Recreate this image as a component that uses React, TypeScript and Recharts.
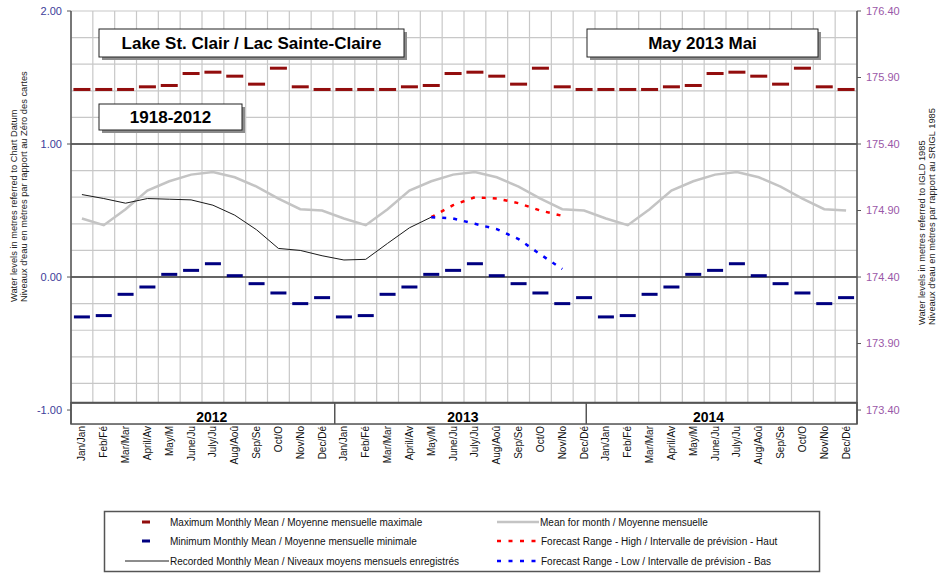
import React from "react";
import {
  ComposedChart,
  Line,
  XAxis,
  YAxis,
  CartesianGrid,
  ReferenceLine,
  ReferenceArea,
  ReferenceDot,
} from "recharts";

const FONT = "Arial, 'Liberation Sans', sans-serif";

// month labels as they appear (clipped) under the axis
const MONTH_LABELS = [
  "Jan/Jan",
  "Feb/Fé",
  "Mar/Mar",
  "April/Av",
  "May/M",
  "June/Ju",
  "July/Ju",
  "Aug/Aoû",
  "Sep/Se",
  "Oct/O",
  "Nov/No",
  "Dec/Dé",
];
const YEARS = ["2012", "2013", "2014"];

// 1918-2012 statistics, metres above chart datum
const MAX_MONTHLY = [1.41, 1.41, 1.41, 1.43, 1.44, 1.53, 1.54, 1.51, 1.45, 1.57, 1.43, 1.41];
const MIN_MONTHLY = [-0.3, -0.29, -0.13, -0.075, 0.02, 0.05, 0.1, 0.01, -0.05, -0.12, -0.2, -0.155];
const MEAN_MONTHLY = [0.44, 0.39, 0.51, 0.65, 0.72, 0.77, 0.79, 0.75, 0.68, 0.59, 0.51, 0.5];

// Jan 2012 .. May 2013
const RECORDED = [
  0.62, 0.59, 0.555, 0.59, 0.585, 0.58, 0.54, 0.465, 0.355, 0.215, 0.2, 0.16,
  0.128, 0.133, 0.253, 0.37, 0.45,
];

// May 2013 .. Nov 2013
const FORECAST_START = 16;
const FORECAST_HIGH = [0.45, 0.54, 0.6, 0.59, 0.555, 0.5, 0.46];
const FORECAST_LOW = [0.45, 0.44, 0.4, 0.36, 0.285, 0.17, 0.06];

const LEFT_TICKS = [-1, 0, 1, 2];
const RIGHT_TICKS = [173.4, 173.9, 174.4, 174.9, 175.4, 175.9, 176.4];
const YEAR_LABEL_POS = [6.45, 17.95, 29.2];
const YEAR_BREAKS = [12.08, 23.6];

const rows = Array.from({ length: 36 }, (_, i) => {
  const f = i - FORECAST_START;
  return {
    x: i + 0.5,
    max: MAX_MONTHLY[i % 12],
    min: MIN_MONTHLY[i % 12],
    mean: MEAN_MONTHLY[i % 12],
    recorded: i < RECORDED.length ? RECORDED[i] : null,
    high: f >= 0 && f < FORECAST_HIGH.length ? FORECAST_HIGH[f] : null,
    low: f >= 0 && f < FORECAST_LOW.length ? FORECAST_LOW[f] : null,
  };
});

const monthTicks = rows.map((r) => r.x);
const gridX = Array.from({ length: 37 }, (_, i) => i);
const gridY = Array.from({ length: 31 }, (_, i) => Math.round((-1 + i * 0.1) * 10) / 10);

const Y_MIN = -1.105;
const BAND_TOP = -0.945;

function MonthTick(props: any) {
  const { x, y, payload } = props;
  const label = MONTH_LABELS[Math.floor(payload.value) % 12];
  return (
    <g transform={`translate(${x}, ${y})`}>
      <text
        transform="rotate(-90)"
        textAnchor="end"
        dy="0.35em"
        fontSize={10}
        fontFamily={FONT}
        fill="#111"
      >
        {label}
      </text>
    </g>
  );
}

const dash = (color: string, w: number) => (p: any) => {
  if (p.cy == null || p.value == null) return <g key={p.index} />;
  return (
    <rect key={p.index} x={p.cx - w / 2} y={p.cy - 1.5} width={w} height={3} fill={color} />
  );
};

function TitleBox({ x, y, w, h, text }: { x: number; y: number; w: number; h: number; text: string }) {
  return (
    <g>
      <rect x={x + 3} y={y + 3} width={w} height={h} fill="#8c8c8c" />
      <rect x={x} y={y} width={w} height={h} fill="#fff" stroke="#222" strokeWidth={1} />
      <text
        x={x + w / 2}
        y={y + h / 2 + 6}
        textAnchor="middle"
        fontSize={17}
        fontWeight="bold"
        fontFamily={FONT}
        fill="#000"
      >
        {text}
      </text>
    </g>
  );
}

const legendText = {
  fontSize: 10,
  fontFamily: FONT,
  fill: "#111",
};

export default function App() {
  return (
    <div
      style={{
        position: "absolute",
        left: 0,
        top: 0,
        width: 938,
        height: 573,
        background: "#fff",
      }}
    >
      <ComposedChart
        width={938}
        height={573}
        data={rows}
        margin={{ top: 11, right: 0, bottom: 89, left: 0 }}
      >
        <XAxis
          xAxisId="m"
          type="number"
          dataKey="x"
          domain={[0, 36]}
          ticks={monthTicks}
          interval={0}
          allowDataOverflow
          height={60}
          axisLine={false}
          tickLine={false}
          tickSize={0}
          tickMargin={2}
          tick={<MonthTick />}
        />
        <XAxis
          xAxisId="g"
          type="number"
          dataKey="x"
          domain={[0, 36]}
          ticks={gridX}
          allowDataOverflow
          height={0}
          hide
        />
        <YAxis
          yAxisId="left"
          type="number"
          domain={[Y_MIN, 2]}
          ticks={LEFT_TICKS}
          allowDataOverflow
          width={71}
          tickFormatter={(v: number) => v.toFixed(2)}
          tick={{ fill: "#40409a", fontSize: 11, fontFamily: FONT }}
          tickSize={4}
          tickMargin={5}
          axisLine={{ stroke: "#555", strokeWidth: 1.5 }}
          tickLine={{ stroke: "#555" }}
        />
        <YAxis
          yAxisId="grid"
          type="number"
          domain={[Y_MIN, 2]}
          ticks={gridY}
          allowDataOverflow
          width={0}
          hide
        />
        <YAxis
          yAxisId="right"
          orientation="right"
          type="number"
          domain={[173.295, 176.4]}
          ticks={RIGHT_TICKS}
          allowDataOverflow
          width={81}
          tickFormatter={(v: number) => v.toFixed(2)}
          tick={{ fill: "#9a58a8", fontSize: 11, fontFamily: FONT }}
          tickSize={4}
          tickMargin={5}
          axisLine={{ stroke: "#555", strokeWidth: 1.5 }}
          tickLine={{ stroke: "#555" }}
        />
        <CartesianGrid xAxisId="g" yAxisId="grid" stroke="#c8c8c8" strokeWidth={1.2} />
        <ReferenceLine xAxisId="g" yAxisId="left" y={1} stroke="#3a3a3a" strokeWidth={1.5} />
        <ReferenceLine xAxisId="g" yAxisId="left" y={0} stroke="#3a3a3a" strokeWidth={1.5} />

        {/* year band */}
        <ReferenceArea
          xAxisId="g"
          yAxisId="left"
          x1={0}
          x2={36}
          y1={Y_MIN}
          y2={BAND_TOP}
          fill="#fff"
          fillOpacity={1}
          stroke="#555"
          strokeWidth={1.5}
          ifOverflow="visible"
        />
        <ReferenceLine xAxisId="g" yAxisId="left" y={BAND_TOP} stroke="#555" strokeWidth={2} />
        {YEAR_BREAKS.map((b) => (
          <ReferenceLine
            key={b}
            xAxisId="g"
            yAxisId="left"
            segment={[
              { x: b, y: BAND_TOP },
              { x: b, y: Y_MIN },
            ]}
            stroke="#555"
            strokeWidth={1.5}
            ifOverflow="visible"
          />
        ))}
        {YEARS.map((yr, i) => (
          <ReferenceDot
            key={yr}
            xAxisId="g"
            yAxisId="left"
            x={YEAR_LABEL_POS[i]}
            y={-1.05}
            r={1}
            fill="none"
            stroke="none"
            ifOverflow="visible"
            label={{
              value: yr,
              position: "center",
              fill: "#000",
              fontSize: 14,
              fontWeight: "bold",
              fontFamily: FONT,
            }}
          />
        ))}

        <Line
          xAxisId="m"
          yAxisId="left"
          dataKey="mean"
          stroke="#c4c4c4"
          strokeWidth={2.5}
          dot={false}
          activeDot={false}
          isAnimationActive={false}
        />
        <Line
          xAxisId="m"
          yAxisId="left"
          dataKey="recorded"
          stroke="#1a1a1a"
          strokeWidth={1}
          dot={false}
          activeDot={false}
          isAnimationActive={false}
        />
        <Line
          xAxisId="m"
          yAxisId="left"
          dataKey="high"
          stroke="#ff0000"
          strokeWidth={2.5}
          strokeDasharray="4 7"
          dot={false}
          activeDot={false}
          isAnimationActive={false}
        />
        <Line
          xAxisId="m"
          yAxisId="left"
          dataKey="low"
          stroke="#0000ff"
          strokeWidth={2.5}
          strokeDasharray="4 7"
          dot={false}
          activeDot={false}
          isAnimationActive={false}
        />
        <Line
          xAxisId="m"
          yAxisId="left"
          dataKey="max"
          stroke="none"
          dot={dash("#920d0d", 17)}
          activeDot={false}
          isAnimationActive={false}
        />
        <Line
          xAxisId="m"
          yAxisId="left"
          dataKey="min"
          stroke="none"
          dot={dash("#000080", 16)}
          activeDot={false}
          isAnimationActive={false}
        />
      </ComposedChart>

      <svg
        width={938}
        height={573}
        style={{ position: "absolute", left: 0, top: 0, pointerEvents: "none" }}
      >
        <TitleBox x={99} y={29} w={305} h={28} text="Lake St. Clair / Lac Sainte-Claire" />
        <TitleBox x={587} y={29} w={231} h={28} text="May 2013 Mai" />
        <TitleBox x={99} y={104} w={143} h={26} text="1918-2012" />

        {/* axis titles */}
        <g fontSize={9.3} fontFamily={FONT} fill="#222">
          <text x={16.5} y={302} transform="rotate(-90, 16.5, 302)">
            Water levels in metres referred to Chart Datum
          </text>
          <text x={26.5} y={302} transform="rotate(-90, 26.5, 302)">
            Niveaux d'eau en mètres par rapport au Zéro des cartes
          </text>
          <text x={925} y={325} transform="rotate(-90, 925, 325)">
            Water levels in metres referred to IGLD 1985
          </text>
          <text x={935} y={325} transform="rotate(-90, 935, 325)">
            Niveaux d'eau en mètres par rapport au SRIGL 1985
          </text>
        </g>

        {/* legend */}
        <rect x={104.5} y={511.5} width={715} height={60} fill="#fff" stroke="#555" strokeWidth={1.5} />
        <rect x={142} y={520.5} width={8} height={3} fill="#920d0d" />
        <text x={170} y={525.5} {...legendText}>
          Maximum Monthly Mean / Moyenne mensuelle maximale
        </text>
        <rect x={142} y={539.5} width={8} height={3} fill="#000080" />
        <text x={170} y={544.5} {...legendText}>
          Minimum Monthly Mean / Moyenne mensuelle minimale
        </text>
        <line x1={125} y1={561} x2={169} y2={561} stroke="#1a1a1a" strokeWidth={1} />
        <text x={170} y={564.5} {...legendText}>
          Recorded Monthly Mean / Niveaux moyens mensuels enregistrés
        </text>
        <line x1={497} y1={522} x2={539} y2={522} stroke="#c4c4c4" strokeWidth={2.5} />
        <text x={540} y={525.5} {...legendText}>
          Mean for month / Moyenne mensuelle
        </text>
        <line x1={497} y1={541} x2={541} y2={541} stroke="#ff0000" strokeWidth={2.5} strokeDasharray="4 7.5" />
        <text x={541} y={544.5} {...legendText}>
          Forecast Range - High / Intervalle de prévision - Haut
        </text>
        <line x1={497} y1={561} x2={541} y2={561} stroke="#0000ff" strokeWidth={2.5} strokeDasharray="4 7.5" />
        <text x={541} y={564.5} {...legendText}>
          Forecast Range - Low / Intervalle de prévision - Bas
        </text>
      </svg>
    </div>
  );
}
